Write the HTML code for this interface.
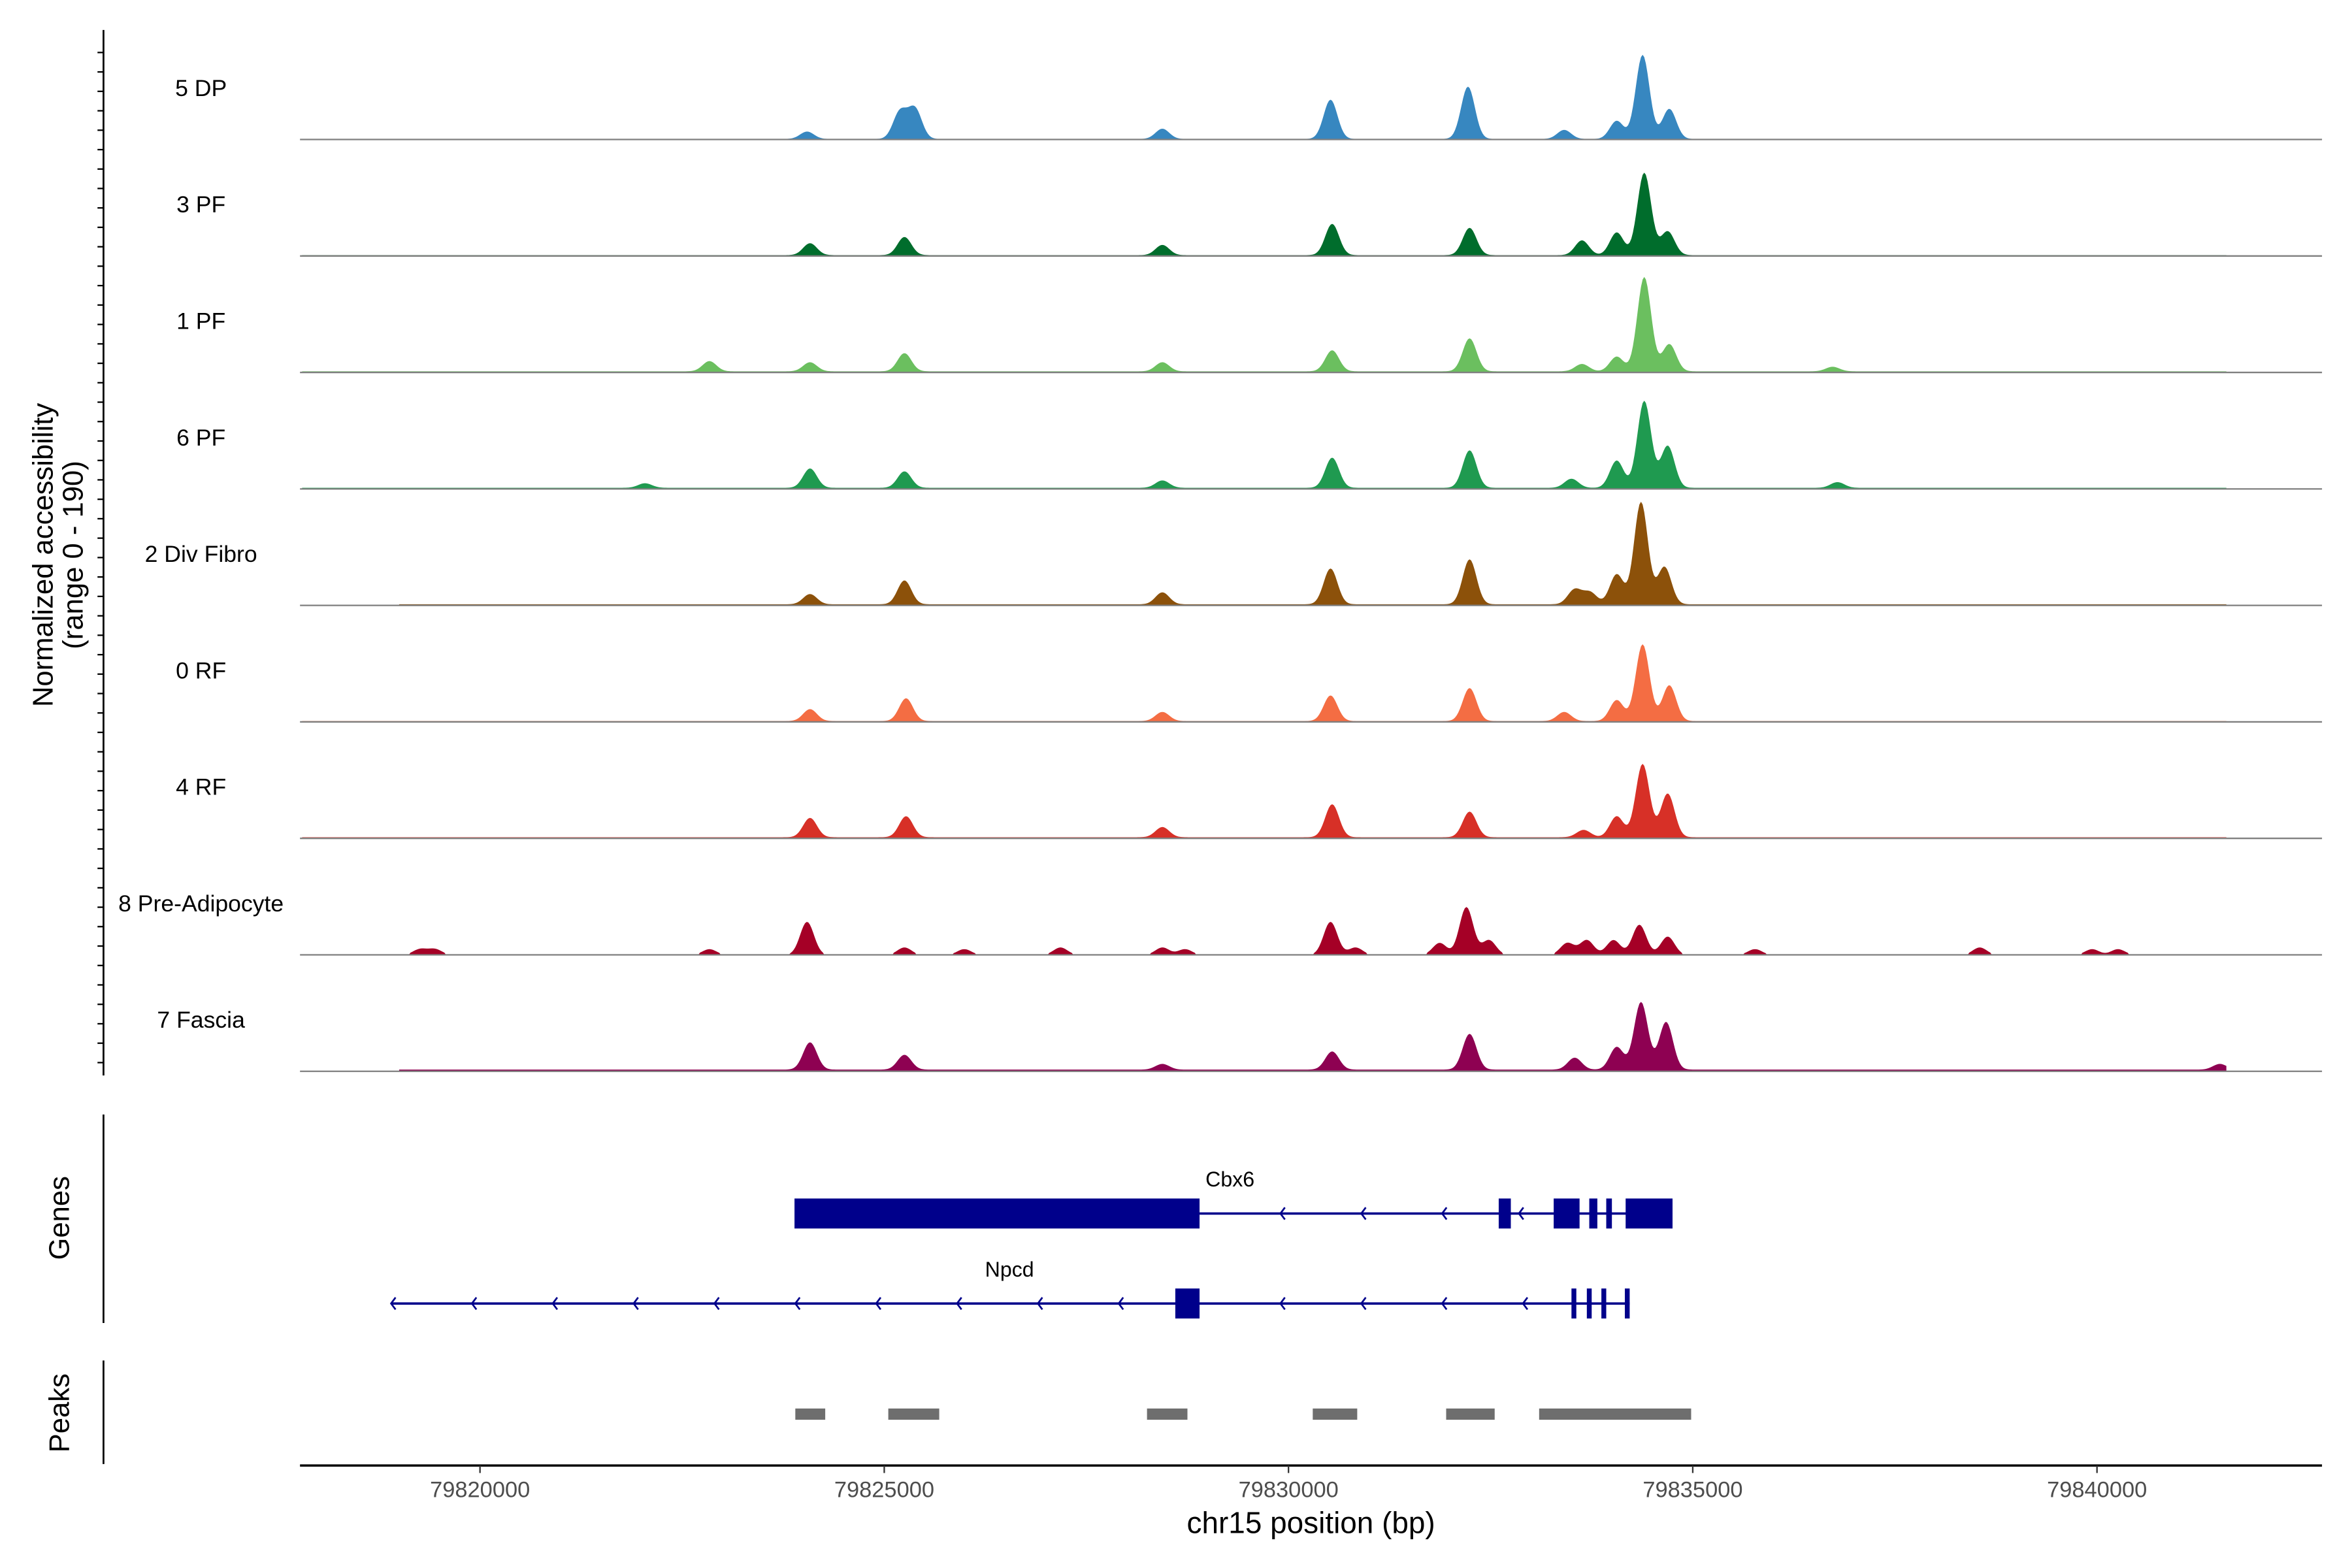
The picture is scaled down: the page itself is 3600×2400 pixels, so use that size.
<!DOCTYPE html>
<html><head><meta charset="utf-8"><style>
html,body{margin:0;padding:0;background:#fff;}
svg{display:block;}
text{font-family:"Liberation Sans",sans-serif;}
</style></head><body>
<svg id="chart" width="3600" height="2400" viewBox="0 0 1568 1045.33" xmlns="http://www.w3.org/2000/svg">
<g id="tracks"></g>
<g id="genes"></g>
<g id="peaks"></g>
<g id="axes"></g>
<text transform="translate(35,370) rotate(-90)" text-anchor="middle" font-size="19">Normalized accessibility</text>
<text transform="translate(55,370) rotate(-90)" text-anchor="middle" font-size="19">(range 0 - 190)</text>
<text transform="translate(46,812) rotate(-90)" text-anchor="middle" font-size="19">Genes</text>
<text transform="translate(46,942) rotate(-90)" text-anchor="middle" font-size="19">Peaks</text>
<text x="874" y="1022" text-anchor="middle" font-size="20">chr15 position (bp)</text>
</svg>
<script>
const NS="http://www.w3.org/2000/svg";
const trackNames=["5 DP","3 PF","1 PF","6 PF","2 Div Fibro","0 RF","4 RF","8 Pre-Adipocyte","7 Fascia"];
const trackColors=["#3787c0","#006d2c","#6bbf5f","#1f9a50","#8c510a","#f46d43","#d73027","#a50026","#8e0152"];
const peakPos5DP=[79824045,79825195,79825380,79828440,79830520,79832220,79833410,79834060,79834380,79834710];
const peakVal5DP=[13,48,53,18,69,92,16,32,148,53];
const peakPos3PF=[79824082,79825250,79828440,79830540,79832240,79833630,79834060,79834400,79834690];
const peakVal3PF=[21,32,18,55,48,26,40,145,42];
const peakPos1PF=[79822838,79824082,79825250,79828440,79830540,79832240,79833630,79834060,79834400,79834710,79836730];
const peakVal1PF=[18,16,32,16,37,58,13,26,166,48,8];
const peakPos6PF=[79822041,79824082,79825250,79828440,79830540,79832240,79833500,79834060,79834400,79834690,79836790];
const peakVal6PF=[8,34,29,13,53,66,16,48,153,74,10];
const peakPosDiv=[79824082,79825250,79828440,79830520,79832240,79833540,79833730,79834060,79834360,79834650];
const peakValDiv=[18,42,21,63,79,26,21,53,180,66];
const peakPos0RF=[79824082,79825270,79828440,79830520,79832240,79833410,79834060,79834380,79834710];
const peakVal0RF=[21,40,16,45,58,16,37,135,63];
const peakPos4RF=[79824082,79825270,79828440,79830540,79832240,79833650,79834060,79834380,79834690];
const peakVal4RF=[34,37,18,58,45,13,37,129,77];
const peakPosPre=[79819258,79819443,79822838,79824045,79825250,79825990,79827180,79828440,79828720,79830520,79830830,79831870,79832200,79832480,79833450,79833690,79834020,79834340,79834690,79835770,79838550,79839940,79840260];
const peakValPre=[10,10,10,58,13,10,13,13,10,58,13,21,84,26,21,26,26,53,32,10,13,10,10];
const peakPosFas=[79824082,79825250,79828440,79830540,79832240,79833540,79834060,79834360,79834670,79841520];
const peakValFas=[48,26,10,32,63,21,40,119,84,10];
const backgroundLevel=[1,1.5,2,2,2,1.5,2,0,3];
const trackStart=[79817800,79817800,79817800,79817800,79819000,79817800,79817800,79817800,79819000];
const trackEnd=[79842500,79841600,79841600,79841600,79841600,79841600,79841600,79840500,79841600];
const allPos=[peakPos5DP,peakPos3PF,peakPos1PF,peakPos6PF,peakPosDiv,peakPos0RF,peakPos4RF,peakPosPre,peakPosFas];
const allVal=[peakVal5DP,peakVal3PF,peakVal1PF,peakVal6PF,peakValDiv,peakVal0RF,peakVal4RF,peakValPre,peakValFas];
const xTicks=[79820000,79825000,79830000,79835000,79840000];
const cbx6Line=[79828900,79834750];
const cbx6Exons=[[79823890,79828900],[79832600,79832750],[79833280,79833600],[79833720,79833820],[79833930,79834000],[79834170,79834750]];
const cbx6Arrows=[79829900,79830900,79831900,79832850];
const npcdLine=[79818900,79834220];
const npcdExons=[[79828600,79828900],[79833500,79833560],[79833690,79833750],[79833870,79833930],[79834160,79834220]];
const npcdArrows=[79818900,79819900,79820900,79821900,79822900,79823900,79824900,79825900,79826900,79827900,79829900,79830900,79831900,79832900];
const peakRegions=[[79823900,79824270],[79825050,79825680],[79828250,79828750],[79830300,79830850],[79831950,79832550],[79833100,79834980]];

const X0=200,X1=1548;
const xs=bp=>320+(bp-79820000)*0.0539;
const H=72/190;
const base=i=>93+i*77.65;
function mk(tag,attrs,parent){const e=document.createElementNS(NS,tag);for(const k in attrs)e.setAttribute(k,attrs[k]);parent.appendChild(e);return e;}

const tg=document.getElementById('tracks');
trackNames.forEach((nm,i)=>{
  const g=mk('g',{},tg);
  
  
  const b=base(i);
  let d='M'+xs(trackStart[i])+','+b;
  const pos=allPos[i],val=allVal[i];
  for(let bp=trackStart[i];bp<=trackEnd[i];bp+=20){
    let v=backgroundLevel[i];
    for(let k=0;k<pos.length;k++){const dd=(bp-pos[k])/85;v+=val[k]*Math.exp(-dd*dd/2);}
    if(i===7&&v<3)v=0;
    d+=' L'+xs(bp).toFixed(2)+','+(b-v*H).toFixed(2);
  }
  d+=' L'+xs(trackEnd[i])+','+b+' Z';
  const p=mk('path',{d:d,fill:trackColors[i]},g);
  
  
  const l=mk('line',{x1:X0,x2:X1,y1:b,y2:b,stroke:'#7f7f7f','stroke-width':1},g);
  
  
  const t=mk('text',{x:134,y:b-29,'text-anchor':'middle','font-size':15.5},g);
  t.textContent=nm;
  
  
});

const ax=document.getElementById('axes');
function vline(x,y1,y2,name){const l=mk('line',{x1:x,x2:x,y1:y1,y2:y2,stroke:'#000','stroke-width':1.2},ax);}
vline(69,20,717,'coverage-y-axis');
vline(69,743,882,'genes-y-axis');
vline(69,907,976,'peaks-y-axis');
for(let y=35;y<716;y+=12.95){const l=mk('line',{x1:65,x2:69,y1:y,y2:y,stroke:'#000','stroke-width':1},ax);}
const xl=mk('line',{x1:X0,x2:X1,y1:977,y2:977,stroke:'#000','stroke-width':1.5},ax);


xTicks.forEach(v=>{
  const l=mk('line',{x1:xs(v),x2:xs(v),y1:977,y2:982,stroke:'#333','stroke-width':1},ax);
  
  
  const t=mk('text',{x:xs(v),y:998,'text-anchor':'middle','font-size':15,fill:'#4d4d4d'},ax);
  t.textContent=v;
  
  
});

const gg=document.getElementById('genes');
function gene(name,line,exons,arrows,y,labelX){
  const g=mk('g',{},gg);
  
  
  const ln=mk('line',{x1:xs(line[0]),x2:xs(line[1]),y1:y,y2:y,stroke:'#00008b','stroke-width':1.6},g);
  
  
  exons.forEach(e=>{const r=mk('rect',{x:xs(e[0]),y:y-10,width:Math.max(1.5,xs(e[1])-xs(e[0])),height:20,fill:'#00008b'},g);});
  arrows.forEach(a=>{const p=mk('path',{d:'M'+(xs(a)+3)+','+(y-4)+' L'+xs(a)+','+y+' L'+(xs(a)+3)+','+(y+4),fill:'none',stroke:'#00008b','stroke-width':1.2},g);});
  const t=mk('text',{x:labelX,y:y-18,'text-anchor':'middle','font-size':14},g);
  t.textContent=name;
  
  
}
gene('Cbx6',cbx6Line,cbx6Exons,cbx6Arrows,809,820);
gene('Npcd',npcdLine,npcdExons,npcdArrows,869,673);

const pg=document.getElementById('peaks');
peakRegions.forEach(r=>{
  const e=mk('rect',{x:xs(r[0]),y:939,width:xs(r[1])-xs(r[0]),height:7.5,fill:'#6e6e6e'},pg);
  
  
});
</script>
</body></html>
